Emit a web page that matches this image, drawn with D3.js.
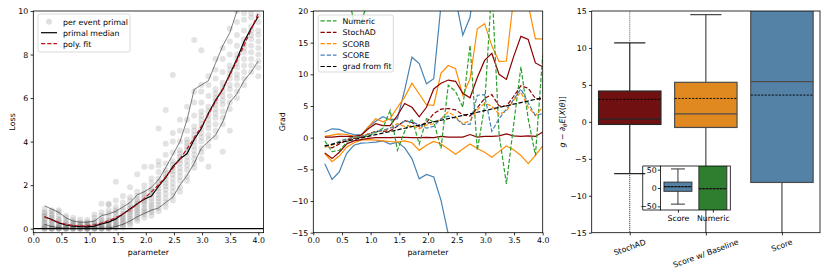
<!DOCTYPE html>
<html><head><meta charset="utf-8">
<script src="https://cdn.jsdelivr.net/npm/d3@7"></script>
<style>
body{margin:0;background:#fff}
text{font-family:"DejaVu Sans",sans-serif;font-size:7.8px;fill:#000}
</style></head><body>
<svg id="c" width="830" height="277" xmlns="http://www.w3.org/2000/svg"></svg>
<script>
// ---------------- DATA ----------------
const params = [0.2,0.327,0.453,0.58,0.707,0.833,0.96,1.087,1.213,1.34,1.467,1.593,1.72,1.847,1.973,2.1,2.227,2.353,2.48,2.607,2.733,2.86,2.987,3.113,3.24,3.367,3.493,3.62,3.747,3.873,4.0];
const xTicks = [0,0.5,1,1.5,2,2.5,3,3.5,4];
const lossTicks = [0,2,4,6,8,10];
const gradTicks = [-15,-10,-5,0,5,10,15,20];
const boxTicks = [-15,-10,-5,0,5,10,15];
const insetTicks = [-50,0,50];

const primalEvents = [
 [0.0,0.0,0.02,0.05,0.1,0.15,0.25,0.3,0.4,0.45,0.55,0.6,0.7,0.75,0.9],
 [0.0,0.0,0.01,0.02,0.06,0.1,0.18,0.25,0.35,0.4,0.5,0.6,0.65,0.8,0.85],
 [0.0,0.0,0.01,0.03,0.06,0.1,0.15,0.2,0.3,0.38,0.45,0.6,0.75,0.85],
 [0.0,0.0,0.01,0.02,0.05,0.08,0.12,0.15,0.22,0.3,0.35,0.5,0.6],
 [0.0,0.0,0.01,0.03,0.05,0.07,0.1,0.12,0.18,0.22,0.28,0.38,0.5],
 [0.0,0.0,0.01,0.02,0.04,0.05,0.08,0.1,0.15,0.18,0.22,0.3,0.42],
 [0.0,0.0,0.0,0.01,0.02,0.04,0.06,0.08,0.12,0.14,0.2,0.25,0.3,0.4],
 [0.0,0.0,0.01,0.03,0.05,0.08,0.12,0.15,0.22,0.28,0.35,0.5,0.65],
 [0.0,0.0,0.02,0.05,0.08,0.12,0.16,0.2,0.3,0.36,0.42,0.6,0.75,1.15],
 [0.0,0.01,0.03,0.06,0.1,0.15,0.22,0.28,0.35,0.4,0.55,0.7,0.85,1.1,1.15],
 [0.02,0.05,0.1,0.16,0.22,0.3,0.35,0.45,0.5,0.65,0.75,0.85,1.0,1.3,2.16],
 [0.05,0.12,0.2,0.28,0.35,0.45,0.5,0.6,0.7,0.85,1.0,1.2,1.5],
 [0.15,0.25,0.35,0.45,0.55,0.65,0.75,0.85,0.9,1.0,1.1,1.3,1.45,1.9],
 [0.35,0.45,0.55,0.65,0.75,0.85,0.95,1.05,1.15,1.25,1.35,1.5,1.7,2.5],
 [0.5,0.65,0.75,0.85,0.95,1.1,1.2,1.3,1.4,1.5,1.6,1.75,2.0,2.85],
 [0.6,0.75,0.85,1.0,1.1,1.25,1.4,1.55,1.65,1.75,1.85,2.1,2.3,2.85],
 [0.8,0.95,1.1,1.25,1.4,1.55,1.7,1.85,2.0,2.15,2.3,2.6,2.9,3.1,4.6],
 [1.0,1.2,1.4,1.6,1.8,1.95,2.1,2.25,2.4,2.55,2.7,3.0,3.4,3.9,5.45],
 [1.3,1.5,1.7,1.9,2.1,2.3,2.5,2.65,2.8,2.95,3.1,3.5,4.0,4.4,7.06],
 [1.7,1.9,2.2,2.4,2.6,2.8,3.0,3.15,3.3,3.45,3.6,4.0,4.5,5.0],
 [2.2,2.4,2.7,2.9,3.1,3.3,3.5,3.65,3.8,3.95,4.1,4.5,5.0,5.6],
 [2.8,3.0,3.2,3.4,3.6,3.8,4.0,4.15,4.3,4.5,4.7,5.2,5.8,6.3,8.67],
 [3.2,3.5,3.7,4.0,4.2,4.4,4.6,4.8,5.0,5.2,5.4,5.8,6.3,6.6,8.2],
 [2.85,3.8,4.1,4.3,4.6,4.8,5.0,5.2,5.4,5.6,6.1,6.6,7.0],
 [4.2,4.5,4.8,5.1,5.3,5.5,5.7,5.85,6.0,6.2,6.4,6.9,7.3,7.8],
 [3.54,4.8,5.1,5.4,5.7,5.9,6.1,6.3,6.5,6.7,7.2,7.8,8.3],
 [4.5,5.5,5.8,6.1,6.4,6.6,6.9,7.1,7.3,7.5,8.0,8.6,9.2],
 [6.0,6.3,6.6,6.9,7.1,7.4,7.6,7.8,8.0,8.4,8.9,9.5,10.0],
 [6.6,6.9,7.2,7.5,7.8,8.1,8.3,8.5,8.7,9.1,9.6,9.9],
 [7.2,7.5,7.8,8.1,8.4,8.7,8.9,9.1,9.3,9.7,9.9],
 [7.0,7.4,7.7,8.0,8.3,8.6,8.9,9.1,9.5,9.8]
];
const primalMedian = [0.55,0.42,0.27,0.17,0.12,0.1,0.08,0.12,0.22,0.3,0.45,0.68,0.9,1.15,1.35,1.5,1.95,2.35,2.85,3.2,3.45,4.1,4.6,5.3,5.9,6.4,7.1,7.8,8.6,9.2,9.75];
const primalUpper = [1.05,0.9,0.75,0.5,0.35,0.3,0.3,0.35,0.6,0.68,0.8,1.0,1.2,1.55,1.7,1.9,2.25,2.8,3.4,4.0,5.0,6.4,6.6,6.8,7.6,8.4,9.0,10.0,10.7,11.3,12.0];
const primalLower = [0.2,0.1,0.05,0.02,0.02,0.02,0.02,0.02,0.02,0.02,0.1,0.2,0.35,0.55,0.7,0.85,0.95,1.2,1.45,2.0,2.45,3.0,3.7,4.0,4.3,4.9,5.8,6.2,6.8,7.2,7.7];
const polyFit = [0.55,0.40,0.29,0.20,0.15,0.13,0.14,0.18,0.26,0.37,0.51,0.68,0.88,1.12,1.39,1.69,2.02,2.39,2.78,3.21,3.67,4.17,4.69,5.25,5.84,6.42,7.05,7.72,8.42,9.15,9.9];

const gradNumeric = [-0.5,-2.2,-2.0,-0.8,0.2,0.0,0.3,0.8,1.5,4.3,-2.0,1.0,3.0,-1.0,3.0,2.5,-1.7,8.3,7.3,4.8,14.6,-2.0,5.0,24,0.5,-7.3,2.0,11.2,3.0,-2.8,13];
const gradNumericHi = [40,35,30,24,18.3,18,22,30,32,35,35,36,38,40,40,42,42,44,44,45,45,46,46,48,48,50,50,50,50,50,50];
const gradNumericLo = [-40,-38,-35,-26,-22,-22,-24,-30,-32,-34,-34,-36,-38,-40,-40,-42,-42,-44,-44,-45,-45,-46,-46,-48,-48,-50,-50,-50,-50,-50,-50];
const gradStochAD = [-1.2,-1.6,-1.0,-0.4,-0.1,0.1,0.6,1.0,1.0,1.1,1.8,2.7,2.4,1.7,2.4,3.8,4.5,4.6,4.4,3.6,3.4,4.7,6.2,6.8,5.0,5.0,6.5,8.2,7.8,6.2,6.0];
const gradStochADHi = [0.1,0.1,0.2,0.2,0.2,0.4,1.4,2.2,1.9,1.9,3.5,5.4,4.8,3.3,4.8,7.7,8.6,9.1,8.9,7.0,6.3,9.5,12.2,13.3,10.0,9.2,12.8,16.0,15.5,11.8,11.2];
const gradStochADLo = [-2.4,-3.3,-2.3,-1.0,-0.5,-0.3,-0.1,0.0,0.0,0.0,0.05,0.05,0.0,0.0,0.05,0.0,0.2,0.1,0.1,0.1,0.5,0.1,0.2,0.2,0.3,0.6,0.3,0.2,0.3,0.2,0.9];
const gradScorb = [-1.5,-1.2,-0.6,-0.2,0.1,0.2,0.6,0.9,1.1,1.5,2.2,1.8,1.9,1.4,2.0,2.2,3.0,4.1,3.3,2.2,2.7,4.4,5.4,5.0,3.7,4.2,5.9,7.2,4.8,3.5,4.8];
const gradScorbHi = [0.2,0.4,0.6,0.5,0.2,0.2,1.7,3.0,2.5,3.0,4.8,6.4,8.6,6.9,5.2,5.1,10.2,11.4,10.9,6.7,9.3,17.2,18.0,14.5,12.0,12.1,22,24,21,15.6,15.6];
const gradScorbLo = [-2.5,-3.8,-2.9,-1.5,-0.8,-0.4,-0.3,-0.4,-0.5,-0.6,-0.7,-0.5,-0.8,-2.0,-1.2,-0.6,-1.0,-1.8,-2.6,-1.8,-1.0,-1.7,-2.3,-3.1,-2.2,-1.3,-1.9,-2.8,-4.1,-2.8,-1.3];
const gradScore = [-1.4,-1.0,-0.6,-0.2,0.1,0.2,0.5,0.9,1.2,1.5,1.9,2.6,2.5,2.0,1.5,1.8,3.0,3.4,3.1,2.1,2.1,6.7,6.8,1.0,3.0,4.5,6.0,7.7,5.5,3.5,3.8];
const gradScoreHi = [0.9,1.4,1.3,0.8,0.5,0.4,1.7,2.6,3.3,2.8,3.0,7.5,12.7,11.7,8.5,9.3,21,26,22,16.2,19,28,30,30,30,30,30,30,30,30,30];
const gradScoreLo = [-4.1,-6.6,-5.4,-2.5,-1.2,-0.85,-0.8,-0.7,-0.5,-1.0,-0.7,-1.6,-3.3,-6.5,-5.8,-6.2,-9.9,-15.2,-20,-22,-24,-25,-25,-25,-25,-25,-25,-25,-25,-25,-25];
const gradFromFit = [-1.3,-1.05,-0.79,-0.54,-0.29,-0.03,0.22,0.47,0.73,0.98,1.23,1.49,1.74,1.99,2.25,2.5,2.75,3.01,3.26,3.51,3.77,4.02,4.27,4.53,4.78,5.03,5.29,5.54,5.79,6.05,6.3];

const boxCats = ["StochAD","Score w/ Baseline","Score"];
const boxQ1 = [-0.35,-0.76,-8.2];
const boxMed = [0.37,1.09,5.43];
const boxQ3 = [4.17,5.35,19];
const boxMean = [3.04,3.17,3.62];
const boxWhiskLo = [-7.0,-25,-30];
const boxWhiskHi = [10.7,14.5,35];
const boxFlierLo = [-16,-25,-30];
const boxFlierHi = [16,14.5,35];

const insetCats = ["Score","Numeric"];
const insetQ1 = [-9,-90];
const insetMed = [3,-2];
const insetQ3 = [16,90];
const insetMean = [4,-2];
const insetWhiskLo = [-44,-150];
const insetWhiskHi = [52,150];

// ---------------- DRAW ----------------
const svg = d3.select("#c");
const C = {green:"#2ca02c", red:"#8b0000", orange:"#ff8c00", blue:"#4682b4"};
const TL = 2.7, TP = 2.4, AXW = 0.8;

function styleAxis(g){
  g.select(".domain").remove();
  g.selectAll(".tick line").attr("stroke","#000").attr("stroke-width",AXW);
  g.selectAll("text").attr("font-size",null).attr("font-family",null);
}
function frame(x0,x1,y0,y1){
  svg.append("rect").attr("x",x0).attr("y",y0).attr("width",x1-x0).attr("height",y1-y0)
    .attr("fill","none").attr("stroke","#000").attr("stroke-width",AXW);
}
function clip(id,x0,x1,y0,y1){
  svg.append("clipPath").attr("id",id).append("rect").attr("x",x0).attr("y",y0).attr("width",x1-x0).attr("height",y1-y0);
}

// ===== Panel 1 =====
const L = {x0:33.3,x1:263.6,y0:11,y1:232.7};
const xL = d3.scaleLinear().domain([0,4.094]).range([L.x0,L.x1]);
const yL = d3.scaleLinear().domain([-0.184,10]).range([L.y1,L.y0]);
clip("cl1",L.x0,L.x1,L.y0,L.y1);
const p1 = svg.append("g").attr("clip-path","url(#cl1)");
const pts = [];
primalEvents.forEach((arr,i)=>arr.forEach(v=>pts.push([params[i],v])));
p1.selectAll("circle").data(pts).enter().append("circle")
  .attr("cx",d=>xL(d[0])).attr("cy",d=>yL(d[1])).attr("r",3)
  .attr("fill","#808080").attr("fill-opacity",0.22);
const lineL = d3.line().x((d,i)=>xL(params[i])).y(d=>yL(d));
p1.append("path").attr("d",lineL(primalUpper)).attr("fill","none").attr("stroke","#000").attr("stroke-opacity",0.5).attr("stroke-width",1);
p1.append("path").attr("d",lineL(primalLower)).attr("fill","none").attr("stroke","#000").attr("stroke-opacity",0.5).attr("stroke-width",1);
p1.append("path").attr("d",lineL(primalMedian)).attr("fill","none").attr("stroke","#000").attr("stroke-width",1.2);
p1.append("path").attr("d",lineL(polyFit)).attr("fill","none").attr("stroke","#c0141a").attr("stroke-width",1.2).attr("stroke-dasharray","4.3,1.9");
p1.append("line").attr("x1",L.x0).attr("x2",L.x1).attr("y1",yL(0)).attr("y2",yL(0)).attr("stroke","#000").attr("stroke-width",1.2);
svg.append("g").attr("transform",`translate(0,${L.y1})`).call(d3.axisBottom(xL).tickValues(xTicks).tickFormat(d3.format(".1f")).tickSize(TL).tickPadding(TP)).call(styleAxis);
svg.append("g").attr("transform",`translate(${L.x0},0)`).call(d3.axisLeft(yL).tickValues(lossTicks).tickFormat(d3.format("d")).tickSize(TL).tickPadding(TP)).call(styleAxis);
frame(L.x0,L.x1,L.y0,L.y1);
svg.append("text").attr("x",(L.x0+L.x1)/2).attr("y",254.5).attr("text-anchor","middle").text("parameter");
svg.append("text").attr("transform",`translate(14.5,${(L.y0+L.y1)/2}) rotate(-90)`).attr("text-anchor","middle").text("Loss");

// legend 1
const lg1 = svg.append("g");
lg1.append("rect").attr("x",38).attr("y",14).attr("width",92).attr("height",38).attr("rx",2)
  .attr("fill","#fff").attr("fill-opacity",0.8).attr("stroke","#d0d0d0").attr("stroke-width",0.8);
const leg1 = [{t:"per event primal",k:"pt"},{t:"primal median",k:"line",c:"#000"},{t:"poly. fit",k:"dash",c:"#c0141a"}];
leg1.forEach((d,i)=>{
  const y = 21.7 + i*11;
  if(d.k==="pt") lg1.append("circle").attr("cx",49).attr("cy",y).attr("r",3).attr("fill","#808080").attr("fill-opacity",0.25);
  else lg1.append("line").attr("x1",41).attr("x2",57).attr("y1",y).attr("y2",y).attr("stroke",d.c).attr("stroke-width",1.2).attr("stroke-dasharray",d.k==="dash"?"4.3,1.9":null);
  lg1.append("text").attr("x",63).attr("y",y+2.8).text(d.t);
});

// ===== Panel 2 =====
const M = {x0:313.3,x1:542.7,y0:11,y1:232.7};
const xM = d3.scaleLinear().domain([0,4]).range([M.x0,M.x1]);
const yM = d3.scaleLinear().domain([-15,20]).range([M.y1,M.y0]);
clip("cl2",M.x0,M.x1,M.y0,M.y1);
const p2 = svg.append("g").attr("clip-path","url(#cl2)");
const lineM = d3.line().x((d,i)=>xM(params[i])).y(d=>yM(d));
const series = [
  {d:gradNumericHi,c:C.green,dash:false},{d:gradNumericLo,c:C.green,dash:false},
  {d:gradScoreHi,c:C.blue,dash:false},{d:gradScoreLo,c:C.blue,dash:false},
  {d:gradScorbHi,c:C.orange,dash:false},{d:gradScorbLo,c:C.orange,dash:false},
  {d:gradStochADHi,c:C.red,dash:false},{d:gradStochADLo,c:C.red,dash:false},
  {d:gradNumeric,c:C.green,dash:true},
  {d:gradStochAD,c:C.red,dash:true},
  {d:gradScorb,c:C.orange,dash:true},
  {d:gradScore,c:C.blue,dash:true},
  {d:gradFromFit,c:"#000",dash:true}
];
series.forEach(s=>{
  p2.append("path").attr("d",lineM(s.d)).attr("fill","none").attr("stroke",s.c)
    .attr("stroke-width",1.2).attr("stroke-dasharray",s.dash?"4.3,1.9":null);
});
svg.append("g").attr("transform",`translate(0,${M.y1})`).call(d3.axisBottom(xM).tickValues(xTicks).tickFormat(d3.format(".1f")).tickSize(TL).tickPadding(TP)).call(styleAxis);
svg.append("g").attr("transform",`translate(${M.x0},0)`).call(d3.axisLeft(yM).tickValues(gradTicks).tickFormat(d3.format("d")).tickSize(TL).tickPadding(TP)).call(styleAxis);
frame(M.x0,M.x1,M.y0,M.y1);
svg.append("text").attr("x",(M.x0+M.x1)/2).attr("y",254.5).attr("text-anchor","middle").text("parameter");
svg.append("text").attr("transform",`translate(284.5,${(M.y0+M.y1)/2}) rotate(-90)`).attr("text-anchor","middle").text("Grad");
const lg2 = svg.append("g");
lg2.append("rect").attr("x",318.3).attr("y",15).attr("width",75).attr("height",57).attr("rx",2)
  .attr("fill","#fff").attr("fill-opacity",0.8).attr("stroke","#d0d0d0").attr("stroke-width",0.8);
const leg2 = [{t:"Numeric",c:C.green},{t:"StochAD",c:C.red},{t:"SCORB",c:C.orange},{t:"SCORE",c:C.blue},{t:"grad from fit",c:"#000"}];
leg2.forEach((d,i)=>{
  const y = 20.9 + i*11.4;
  lg2.append("line").attr("x1",320.5).attr("x2",336.5).attr("y1",y).attr("y2",y).attr("stroke",d.c).attr("stroke-width",1.2).attr("stroke-dasharray","4.3,1.9");
  lg2.append("text").attr("x",342.5).attr("y",y+2.8).text(d.t);
});

// ===== Panel 3 =====
const R = {x0:591.7,x1:820,y0:11,y1:232.7};
const xR = d3.scaleLinear().domain([-0.5,2.5]).range([R.x0,R.x1]);
const yR = d3.scaleLinear().domain([-15,15]).range([R.y1,R.y0]);
const boxCol = ["#701010","#df8920","#5481a6"];
const boxLine = ["#262626","#4c4c4c","#4b4b4b"];
clip("cl3",R.x0,R.x1,R.y0,R.y1);
const p3 = svg.append("g").attr("clip-path","url(#cl3)");
const bw = 0.82*(xR(1)-xR(0));
boxCats.forEach((c,i)=>{
  const cx = xR(i), LC = boxLine[i];
  p3.append("line").attr("x1",cx).attr("x2",cx).attr("y1",yR(boxFlierHi[i])).attr("y2",yR(boxWhiskHi[i])).attr("stroke","#777").attr("stroke-width",1).attr("stroke-dasharray","1.2,0.8");
  p3.append("line").attr("x1",cx).attr("x2",cx).attr("y1",yR(boxFlierLo[i])).attr("y2",yR(boxWhiskLo[i])).attr("stroke","#444").attr("stroke-width",1).attr("stroke-dasharray","1.2,0.8");
  p3.append("line").attr("x1",cx).attr("x2",cx).attr("y1",yR(boxWhiskHi[i])).attr("y2",yR(boxQ3[i])).attr("stroke",LC).attr("stroke-width",1.2);
  p3.append("line").attr("x1",cx).attr("x2",cx).attr("y1",yR(boxQ1[i])).attr("y2",yR(boxWhiskLo[i])).attr("stroke",LC).attr("stroke-width",1.2);
  [boxWhiskHi[i],boxWhiskLo[i]].forEach(v=>p3.append("line").attr("x1",cx-bw/4).attr("x2",cx+bw/4).attr("y1",yR(v)).attr("y2",yR(v)).attr("stroke",LC).attr("stroke-width",1.2));
  p3.append("rect").attr("x",cx-bw/2).attr("width",bw).attr("y",yR(boxQ3[i])).attr("height",yR(boxQ1[i])-yR(boxQ3[i]))
    .attr("fill",boxCol[i]).attr("stroke",LC).attr("stroke-width",1.2);
  p3.append("line").attr("x1",cx-bw/2).attr("x2",cx+bw/2).attr("y1",yR(boxMed[i])).attr("y2",yR(boxMed[i])).attr("stroke",LC).attr("stroke-width",1.2);
  p3.append("line").attr("x1",cx-bw/2).attr("x2",cx+bw/2).attr("y1",yR(boxMean[i])).attr("y2",yR(boxMean[i])).attr("stroke","#000").attr("stroke-width",0.9).attr("stroke-dasharray","2.2,1.3");
});
svg.append("g").attr("transform",`translate(${R.x0},0)`).call(d3.axisLeft(yR).tickValues(boxTicks).tickFormat(d3.format("d")).tickSize(TL).tickPadding(TP)).call(styleAxis);
svg.append("g").attr("transform",`translate(0,${R.y1})`).call(d3.axisBottom(xR).tickValues([0,1,2]).tickFormat("").tickSize(TL)).call(styleAxis);
frame(R.x0,R.x1,R.y0,R.y1);
boxCats.forEach((c,i)=>{
  const t = svg.append("text").attr("text-anchor","middle").attr("dominant-baseline","central").text(c);
  const w = t.node().getComputedTextLength();
  const a = 20*Math.PI/180, h = 7.8*1.1;
  const cy = R.y1 + TL + TP + (w*Math.sin(a)+h*Math.cos(a))/2;
  t.attr("transform",`translate(${xR(i)},${cy}) rotate(-20)`);
});
const yl = svg.append("text").attr("transform",`translate(565,${(R.y0+R.y1)/2}) rotate(-90)`).attr("text-anchor","middle");
yl.append("tspan").attr("font-style","italic").text("g");
yl.append("tspan").text(" − ∂");
yl.append("tspan").attr("font-style","italic").attr("font-size","5.6px").attr("dy",1.6).text("θ");
yl.append("tspan").attr("font-style","italic").attr("dy",-1.6).text("E");
yl.append("tspan").text("[");
yl.append("tspan").attr("font-style","italic").text("X");
yl.append("tspan").text("(");
yl.append("tspan").attr("font-style","italic").text("θ");
yl.append("tspan").text(")]");

// inset
const I = {x0:660.5,x1:730.3,y0:166,y1:210};
const xI = d3.scaleLinear().domain([-0.5,1.5]).range([I.x0,I.x1]);
const yI = d3.scaleLinear().domain([-60,60]).range([I.y1,I.y0]);
svg.append("rect").attr("x",I.x0).attr("y",I.y0).attr("width",I.x1-I.x0).attr("height",I.y1-I.y0).attr("fill","#fff");
clip("cl4",I.x0,I.x1,I.y0,I.y1);
const p4 = svg.append("g").attr("clip-path","url(#cl4)");
const ibw = 0.8*(xI(1)-xI(0));
const inCol = ["#5481a6","#2f7e2f"];
const ILC = "#343434";
insetCats.forEach((c,i)=>{
  const cx = xI(i);
  p4.append("line").attr("x1",cx).attr("x2",cx).attr("y1",yI(insetWhiskHi[i])).attr("y2",yI(insetWhiskLo[i])).attr("stroke",ILC).attr("stroke-width",1);
  [insetWhiskHi[i],insetWhiskLo[i]].forEach(v=>p4.append("line").attr("x1",cx-ibw/4).attr("x2",cx+ibw/4).attr("y1",yI(v)).attr("y2",yI(v)).attr("stroke",ILC).attr("stroke-width",1));
  p4.append("rect").attr("x",cx-ibw/2).attr("width",ibw).attr("y",yI(insetQ3[i])).attr("height",yI(insetQ1[i])-yI(insetQ3[i]))
    .attr("fill",inCol[i]).attr("stroke",ILC).attr("stroke-width",1);
  p4.append("line").attr("x1",cx-ibw/2).attr("x2",cx+ibw/2).attr("y1",yI(insetMed[i])).attr("y2",yI(insetMed[i])).attr("stroke",ILC).attr("stroke-width",1);
  p4.append("line").attr("x1",cx-ibw/2).attr("x2",cx+ibw/2).attr("y1",yI(insetMean[i])).attr("y2",yI(insetMean[i])).attr("stroke","#000").attr("stroke-width",0.9).attr("stroke-dasharray","2.2,1.3");
});
svg.append("g").attr("transform",`translate(${I.x0},0)`).call(d3.axisLeft(yI).tickValues(insetTicks).tickFormat(d3.format("d")).tickSize(TL).tickPadding(1.2)).call(styleAxis);
svg.append("g").attr("transform",`translate(0,${I.y1})`).call(d3.axisBottom(xI).tickValues([0,1]).tickFormat((d,i)=>insetCats[i]).tickSize(TL).tickPadding(TP)).call(styleAxis);
frame(I.x0,I.x1,I.y0,I.y1);
svg.append("path").attr("d",`M${642.7},${I.y0}V${I.y1}H${I.x0}M${642.7},${I.y0}H${I.x0}`).attr("fill","none").attr("stroke","#000").attr("stroke-width",AXW);
</script>
</body></html>
